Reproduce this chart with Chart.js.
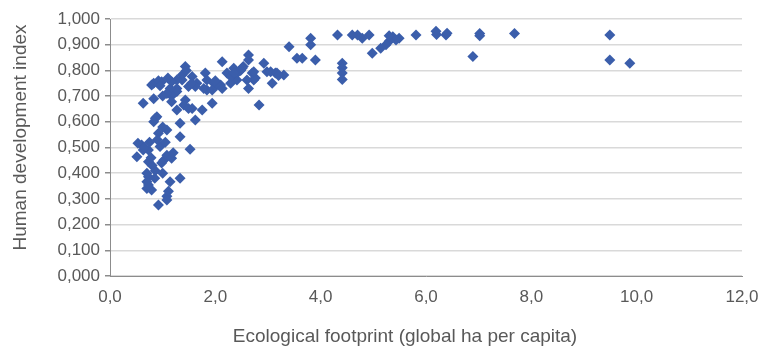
<!DOCTYPE html>
<html>
<head>
<meta charset="utf-8">
<script src="https://cdn.jsdelivr.net/npm/chart.js@4"></script>
<style>
  html, body { margin: 0; padding: 0; background: #fff; }
  #chart { display: block; }
</style>
</head>
<body>
<canvas id="chart" width="760" height="350"></canvas>
<script>
// Ecological footprint (global ha per capita), one entry per country
const footprint = [
    9.87, 9.49, 9.49, 7.68, 7.02, 7.02, 6.89, 6.38, 6.20, 6.19,
    6.40, 5.81, 5.49, 5.43, 5.37, 5.30, 5.30, 5.24, 5.14, 4.98,
    4.92, 4.79, 4.70, 4.60, 4.32, 4.41, 4.41, 4.41, 4.41, 3.81,
    3.81, 3.90, 3.65, 3.55, 3.40, 3.30, 3.14, 3.08, 2.98, 2.92,
    2.83, 2.73, 2.70, 2.63, 2.63, 2.63, 2.53, 2.48, 2.41, 2.35,
    2.29, 2.22, 2.13, 2.10, 1.97, 1.94, 1.84, 1.81, 1.75, 1.84,
    1.78, 2.03, 2.44, 2.60, 2.76, 3.05, 2.13, 2.29, 1.65, 1.62,
    1.56, 1.49, 1.43, 1.43, 1.37, 1.37, 1.27, 1.27, 1.27, 1.27,
    1.17, 1.17, 1.17, 1.14, 1.08, 0.98, 0.92, 0.83, 0.79, 0.83,
    0.63, 1.40, 1.49, 1.56, 1.62, 1.33, 0.89, 0.86, 0.83, 1.08,
    1.00, 1.33, 0.92, 1.52, 0.60, 0.53, 0.51, 0.63, 0.73, 0.95,
    0.73, 1.02, 1.08, 1.17, 0.98, 0.86, 0.80, 0.73, 0.70, 0.70,
    0.79, 0.73, 1.14, 1.33, 1.11, 1.08, 1.08, 0.92, 0.90, 0.78,
    1.20, 0.65, 1.94, 2.00, 2.35, 2.51, 3.17, 3.20, 2.73, 1.00,
    0.95, 1.10, 1.45, 1.55, 0.70, 0.85, 1.00, 0.75, 1.05,
];
// Human development index, same order as footprint
const hdi = [
    0.828, 0.840, 0.938, 0.944, 0.944, 0.935, 0.854, 0.938, 0.940, 0.952,
    0.945, 0.938, 0.925, 0.918, 0.931, 0.913, 0.935, 0.900, 0.886, 0.867,
    0.938, 0.925, 0.938, 0.938, 0.938, 0.828, 0.810, 0.790, 0.765, 0.925,
    0.900, 0.840, 0.847, 0.847, 0.892, 0.782, 0.790, 0.750, 0.795, 0.828,
    0.665, 0.763, 0.790, 0.860, 0.840, 0.730, 0.815, 0.800, 0.763, 0.808,
    0.750, 0.790, 0.834, 0.743, 0.750, 0.672, 0.724, 0.790, 0.646, 0.763,
    0.730, 0.743, 0.795, 0.763, 0.770, 0.795, 0.730, 0.776, 0.750, 0.737,
    0.776, 0.737, 0.815, 0.685, 0.782, 0.763, 0.763, 0.730, 0.718, 0.646,
    0.756, 0.700, 0.678, 0.730, 0.710, 0.756, 0.760, 0.750, 0.743, 0.690,
    0.672, 0.665, 0.652, 0.652, 0.607, 0.594, 0.620, 0.614, 0.600, 0.568,
    0.580, 0.542, 0.555, 0.493, 0.510, 0.517, 0.464, 0.490, 0.490, 0.504,
    0.445, 0.450, 0.470, 0.458, 0.440, 0.410, 0.430, 0.386, 0.367, 0.340,
    0.335, 0.354, 0.367, 0.380, 0.330, 0.310, 0.296, 0.276, 0.530, 0.460,
    0.480, 0.500, 0.724, 0.760, 0.790, 0.808, 0.790, 0.780, 0.795, 0.700,
    0.740, 0.770, 0.800, 0.750, 0.400, 0.380, 0.400, 0.520, 0.520,
];

const xTitle = 'Ecological footprint (global ha per capita)';
const yTitle = 'Human development index';

const textColor = '#595959';
const axisColor = '#8c8c8c';
const markerColor = '#3b5eab';
const titleFont = '19px "Liberation Sans"';

const points = footprint.map((x, i) => ({ x, y: hdi[i] }));

// Excel places the axis titles a little off the plot centre; draw them ourselves
// so they can sit where the original has them.
const axisTitles = {
    id: 'axisTitles',
    afterDraw(chart) {
        const { ctx, chartArea } = chart;
        const midX = (chartArea.left + chartArea.right) / 2 - 21;
        const midY = (chartArea.top + chartArea.bottom) / 2 - 10;
        ctx.save();
        ctx.fillStyle = textColor;
        ctx.font = titleFont;
        ctx.textAlign = 'center';
        ctx.textBaseline = 'middle';
        ctx.fillText(xTitle, midX, chart.height - 13);
        ctx.translate(21, midY);
        ctx.rotate(-Math.PI / 2);
        ctx.fillText(yTitle, 0, 0);
        ctx.restore();
    },
};

new Chart(document.getElementById('chart'), {
    type: 'scatter',
    data: {
        datasets: [{
            data: points,
            pointStyle: 'rectRot',
            pointRadius: 5.5,
            pointHoverRadius: 5.5,
            backgroundColor: markerColor,
            borderColor: markerColor,
            borderWidth: 0,
        }],
    },
    options: {
        responsive: false,
        animation: false,
        layout: { padding: { top: 19, right: 18, left: 0, bottom: 0 } },
        plugins: { legend: { display: false }, tooltip: { enabled: false } },
        scales: {
            x: {
                type: 'linear',
                min: 0,
                max: 12,
                ticks: {
                    stepSize: 2,
                    padding: 11,
                    color: textColor,
                    font: { family: 'Liberation Sans', size: 17 },
                    callback: (v) => v.toFixed(1).replace('.', ','),
                },
                grid: { drawOnChartArea: false, drawTicks: false },
                border: { color: axisColor, width: 1 },
                // let the end labels hang over the plot edges instead of shrinking it
                afterFit: (s) => { s.height = 74; s.paddingLeft = 0; s.paddingRight = 0; },
            },
            y: {
                min: 0,
                max: 1,
                ticks: {
                    stepSize: 0.1,
                    padding: 5,
                    color: textColor,
                    font: { family: 'Liberation Sans', size: 17 },
                    callback: (v) => v.toFixed(3).replace('.', ','),
                },
                grid: { color: '#d9d9d9', lineWidth: 1.5, tickLength: 5, tickColor: axisColor },
                border: { color: axisColor, width: 1 },
                afterFit: (s) => { s.width = 110; },
            },
        },
    },
    plugins: [axisTitles],
});
</script>
</body>
</html>
